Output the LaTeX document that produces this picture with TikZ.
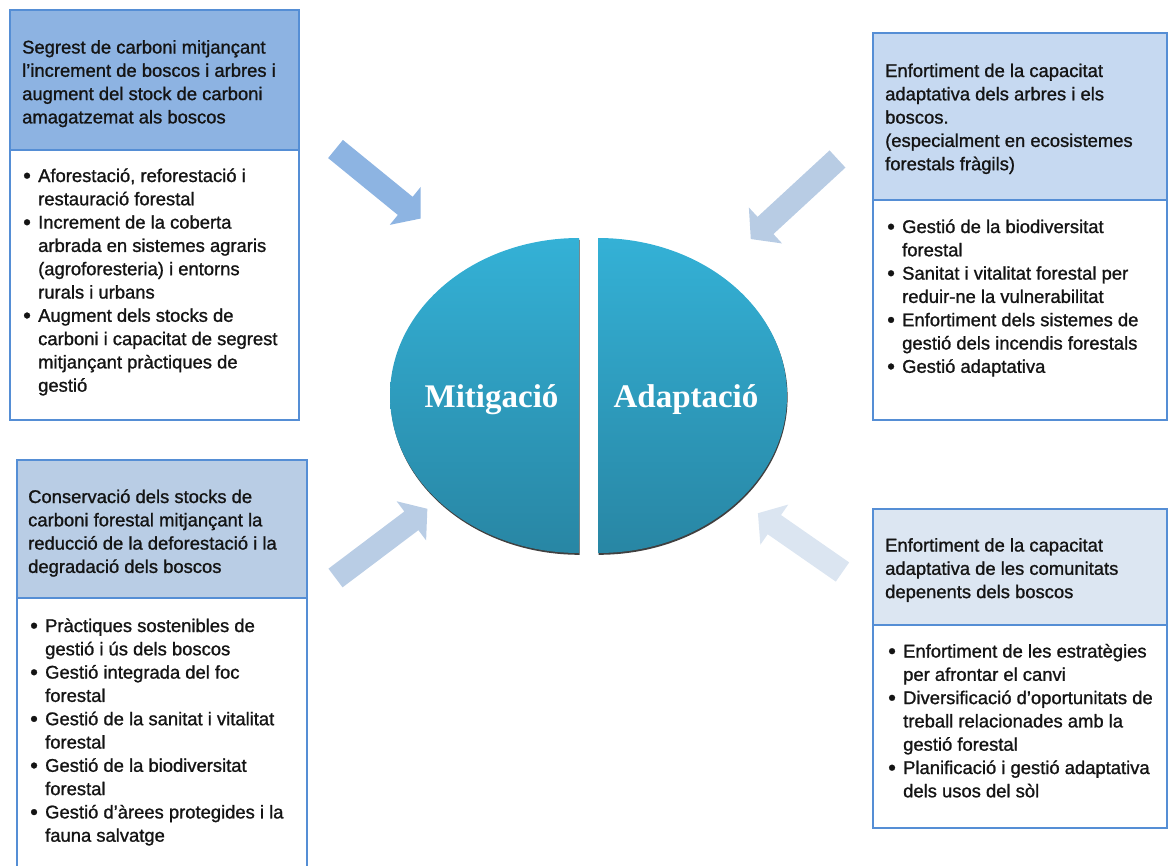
\documentclass[tikz,border=0pt]{standalone}
\usepackage{fontspec}
\setmainfont{Liberation Sans}[FakeBold=1.1]
\newfontfamily\boxfont{Liberation Sans}[FakeBold=1.1]
\newfontfamily\titlefont{Liberation Serif}

% colours
\definecolor{frame}{RGB}{85,142,213}
\definecolor{hdrA}{RGB}{141,179,226}
\definecolor{hdrB}{RGB}{198,217,241}
\definecolor{hdrC}{RGB}{185,205,229}
\definecolor{hdrD}{RGB}{220,230,242}
\definecolor{arrA}{RGB}{141,180,226}
\definecolor{arrB}{RGB}{184,204,228}
\definecolor{arrC}{RGB}{185,205,229}
\definecolor{arrD}{RGB}{219,229,241}
\definecolor{ovalTop}{RGB}{52,177,214}
\definecolor{ovalBot}{RGB}{40,134,164}
\definecolor{ink}{RGB}{20,20,20}

% text block of a box, first baseline on the node's base
\newcommand\boxtext[1]{\begin{minipage}[t]{290pt}\raggedright
  \boxfont\fontsize{18.4}{23.3}\selectfont #1\end{minipage}}
% a slightly larger bullet
\newcommand\bigbullet{\raisebox{-1pt}{\fontsize{22}{22}\selectfont\textbullet}}
% bulleted paragraph with hanging indent; \\ breaks a line inside the item
\newcommand\bulitem[1]{\par\noindent\hangindent=15pt\hangafter=1%
  \makebox[15pt][l]{\bigbullet}{\let\\\newline #1}}

\begin{document}
\begin{tikzpicture}[x=1pt,y=-1pt,
  boxline/.style={draw=frame, line width=2.6pt},
  txt/.style={anchor=base west, inner sep=0pt, text=ink},
  oval/.style={top color=ovalTop, bottom color=ovalBot},
  ovalshadow/.style={fill=black, fill opacity=0.75},
  title/.style={anchor=base, inner sep=0pt, text=white,
    font=\titlefont\bfseries\fontsize{33}{36}\selectfont},
  blockarrow/.pic={\fill (0,-11.7) -- (#1-20,-11.7) -- (#1-20,-24.5) -- (#1,0)
    -- (#1-20,24.5) -- (#1-20,11.7) -- (0,11.7) -- cycle;}
]
\useasboundingbox (0,0) rectangle (1170,865);
\clip (0,0) rectangle (1170,865);

% ---- central split oval ----
\begin{scope}[shift={(0.6,1.8)}]
  \fill[ovalshadow] (579,238) arc[start angle=270, end angle=90, x radius=189, y radius=157.5] -- cycle;
  \fill[ovalshadow] (598,238) arc[start angle=-90, end angle=90, x radius=189, y radius=157.5] -- cycle;
\end{scope}
\shade[oval] (579,238) arc[start angle=270, end angle=90, x radius=189, y radius=157.5] -- cycle;
\shade[oval] (598,238) arc[start angle=-90, end angle=90, x radius=189, y radius=157.5] -- cycle;
\node[title] (mit) at (491.5,407) {Mitigació};
\node[title] (ada) at (686,407) {Adaptació};

% ---- block arrows pointing at the oval ----
\pic[arrA, rotate=-39.2] at (335.5,149) {blockarrow=110};
\pic[arrB, rotate=-137.3] at (837.5,159) {blockarrow=118};
\pic[arrC, rotate=37] at (335.5,578) {blockarrow=115};
\pic[arrD, rotate=145.2] at (842.5,572) {blockarrow=103};

% ---- top-left box ----
\draw[boxline, fill=hdrA] (10,10) rectangle (299,150);
\draw[boxline, fill=white] (10,150) rectangle (299,420);
\node[txt] (tlHead) at (22,53.5) {\boxtext{Segrest de carboni mitjançant\\
  l’increment de boscos i arbres i\\ augment del stock de carboni\\ amagatzemat als boscos}};
\node[txt] (tlList) at (23,182) {\boxtext{%
  \bulitem{Aforestació, reforestació i\\ restauració forestal}
  \bulitem{Increment de la coberta\\ arbrada en sistemes agraris\\ (agroforesteria) i entorns\\ rurals i urbans}
  \bulitem{Augment dels stocks de\\ carboni i capacitat de segrest\\ mitjançant pràctiques de\\ gestió}}};

% ---- top-right box ----
\draw[boxline, fill=hdrB] (873,33) rectangle (1167,200);
\draw[boxline, fill=white] (873,200) rectangle (1167,420);
\node[txt] (trHead) at (885,77) {\boxtext{Enfortiment de la capacitat\\
  adaptativa dels arbres i els\\ boscos.\\ (especialment en ecosistemes\\ forestals fràgils)}};
\node[txt] (trList) at (887,233) {\boxtext{%
  \bulitem{Gestió de la biodiversitat\\ forestal}
  \bulitem{Sanitat i vitalitat forestal per\\ reduir-ne la vulnerabilitat}
  \bulitem{Enfortiment dels sistemes de\\ gestió dels incendis forestals}
  \bulitem{Gestió adaptativa}}};

% ---- bottom-left box ----
\draw[boxline, fill=hdrC] (17,460) rectangle (307,598);
\draw[boxline, fill=white] (17,598) rectangle (307,880);
\node[txt] (blHead) at (28,503) {\boxtext{Conservació dels stocks de\\
  carboni forestal mitjançant la\\ reducció de la deforestació i la\\ degradació dels boscos}};
\node[txt] (blList) at (30,632) {\boxtext{%
  \bulitem{Pràctiques sostenibles de\\ gestió i ús dels boscos}
  \bulitem{Gestió integrada del foc\\ forestal}
  \bulitem{Gestió de la sanitat i vitalitat\\ forestal}
  \bulitem{Gestió de la biodiversitat\\ forestal}
  \bulitem{Gestió d’àrees protegides i la\\ fauna salvatge}}};

% ---- bottom-right box ----
\draw[boxline, fill=hdrD] (873,509) rectangle (1167,625);
\draw[boxline, fill=white] (873,625) rectangle (1167,828);
\node[txt] (brHead) at (885,551.5) {\boxtext{Enfortiment de la capacitat\\
  adaptativa de les comunitats\\ depenents dels boscos}};
\node[txt] (brList) at (888,657.5) {\boxtext{%
  \bulitem{Enfortiment de les estratègies\\ per afrontar el canvi}
  \bulitem{Diversificació d’oportunitats de\\ treball relacionades amb la\\ gestió forestal}
  \bulitem{Planificació i gestió adaptativa\\ dels usos del sòl}}};
\end{tikzpicture}
\end{document}
